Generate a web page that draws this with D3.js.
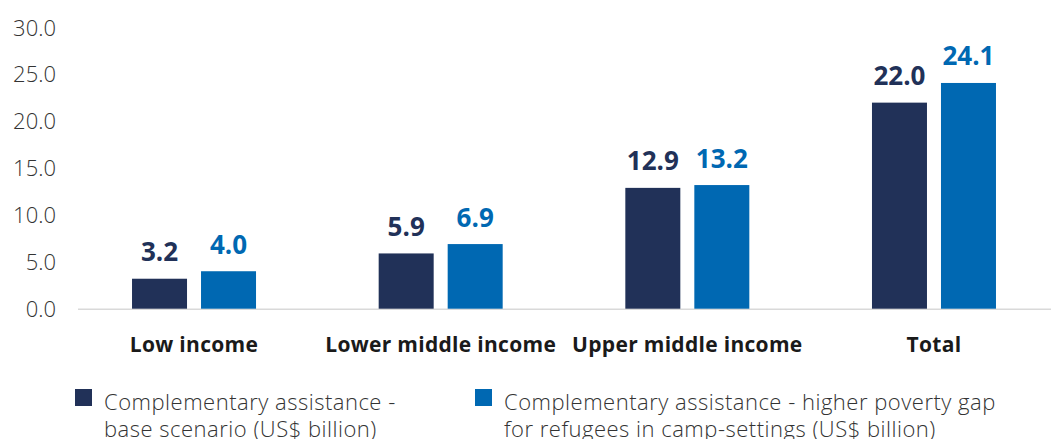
<!DOCTYPE html>
<html>
<head>
<meta charset="utf-8">
<script src="https://cdn.jsdelivr.net/npm/d3@7"></script>
<style>
  html, body { margin: 0; padding: 0; background: #fff; }
  svg { display: block; font-family: "Open Sans", "Noto Sans", sans-serif; }
</style>
</head>
<body>
<svg id="chart" width="1051" height="439"></svg>
<script>
// Income groups and the two complementary-assistance scenarios (US$ billion)
const categories = ["Low income", "Lower middle income", "Upper middle income", "Total"];
const seriesNames = [
  "Complementary assistance - base scenario (US$ billion)",
  "Complementary assistance - higher poverty gap for refugees in camp-settings (US$ billion)"
];
const baseScenario = [3.2, 5.9, 12.9, 22.0];
const higherGap = [4.0, 6.9, 13.2, 24.1];
const yTicks = [0, 5, 10, 15, 20, 25, 30];
const legendLines = [
  ["Complementary assistance -", "base scenario (US$ billion)"],
  ["Complementary assistance - higher poverty gap", "for refugees in camp-settings (US$ billion)"]
];

const colors = ["#213158", "#0068B2"];
const seriesValues = [baseScenario, higherGap];

const svg = d3.select("#chart");

const x = d3.scaleBand().domain(categories).range([70.7, 1057.3]).padding(0);
const xInner = d3.scaleBand().domain([0, 1]).range([0, 124]).paddingInner(14 / 69).paddingOuter(0);
const y = d3.scaleLinear().domain([0, 30]).range([308.7, 27.7]);

// baseline
svg.append("line")
  .attr("x1", 78).attr("x2", 1051)
  .attr("y1", y(0) + 0.5).attr("y2", y(0) + 0.5)
  .attr("stroke", "#d9d9d9").attr("stroke-width", 1.5);

// y-axis tick labels
svg.append("g").selectAll("text").data(yTicks).join("text")
  .attr("x", 56)
  .attr("y", d => y(d))
  .attr("dy", "0.36em")
  .attr("text-anchor", "end")
  .attr("font-size", 22)
  .attr("font-weight", 300)
  .attr("fill", "#333")
  .text(d => d3.format(".1f")(d));

// bars and value labels
const groups = svg.append("g").selectAll("g").data(categories).join("g")
  .attr("transform", d => `translate(${x(d) + x.bandwidth() / 2 - 62},0)`);

groups.each(function(cat, ci) {
  const g = d3.select(this);
  seriesValues.forEach((vals, si) => {
    const v = vals[ci];
    g.append("rect")
      .attr("x", xInner(si))
      .attr("width", xInner.bandwidth())
      .attr("y", y(v))
      .attr("height", y(0) - y(v))
      .attr("fill", colors[si]);
    g.append("text")
      .attr("x", xInner(si) + xInner.bandwidth() / 2)
      .attr("y", y(v) - 17.5)
      .attr("text-anchor", "middle")
      .attr("font-size", 26)
      .attr("font-weight", 700)
      .attr("fill", colors[si])
      .text(d3.format(".1f")(v));
  });
});

// category labels
svg.append("g").selectAll("text").data(categories).join("text")
  .attr("x", d => x(d) + x.bandwidth() / 2)
  .attr("y", 352)
  .attr("text-anchor", "middle")
  .attr("font-size", 21)
  .attr("font-weight", 700)
  .attr("letter-spacing", 0.3)
  .attr("fill", "#1a1a1a")
  .text(d => d);

// legend
const legendX = [75, 475];
seriesNames.forEach((name, i) => {
  const lg = svg.append("g").attr("transform", `translate(${legendX[i]},389)`);
  lg.append("rect").attr("width", 17).attr("height", 17).attr("fill", colors[i]);
  lg.append("text")
    .attr("x", 29)
    .attr("y", 20.5)
    .attr("font-size", 22)
    .attr("font-weight", 300)
    .attr("letter-spacing", 0.5)
    .attr("fill", "#333")
    .selectAll("tspan").data(legendLines[i]).join("tspan")
    .attr("x", 29)
    .attr("dy", (d, j) => j === 0 ? 0 : 27.5)
    .text(d => d);
});
</script>
</body>
</html>
